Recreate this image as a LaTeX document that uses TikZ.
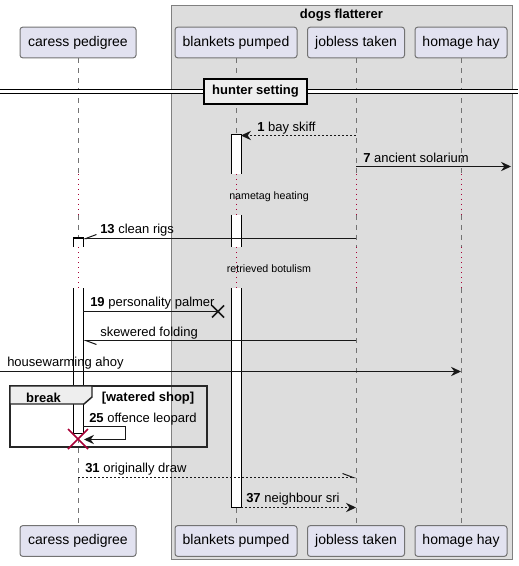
\documentclass[tikz,border=0pt]{standalone}
\usepackage{fontspec}
\setmainfont{Liberation Sans}
\usepackage{xcolor}
\usetikzlibrary{arrows.meta, positioning}

\definecolor{partfill}{HTML}{E2E2F0}
\definecolor{boxfill}{HTML}{DDDDDD}
\definecolor{tabfill}{HTML}{EEEEEE}
\definecolor{delayred}{HTML}{A80036}
\definecolor{msgline}{HTML}{181818}

\newcommand{\msgfont}{\fontsize{9.75}{11}\selectfont}
\newcommand{\partfont}{\fontsize{10.5}{12}\selectfont}
\newcommand{\smallfont}{\fontsize{8}{9}\selectfont}

\begin{document}
\begin{tikzpicture}[x=0.75pt, y=-0.75pt,
    participant/.style={rectangle, rounded corners=2pt, draw=black!55, fill=partfill, line width=0.75pt, minimum height=23pt, inner xsep=5.5pt, font=\partfont},
    lifeline/.style={draw=black!55, line width=0.75pt, dash pattern=on 3.75pt off 3.75pt},
    delay/.style={draw=delayred, line width=0.75pt, dash pattern=on 0.75pt off 3pt},
    msg/.style={draw=msgline, line width=0.75pt},
    reply/.style={msg, dash pattern=on 1.5pt off 1.5pt},
    full/.style={-{Stealth[length=7.5pt, width=7pt, inset=2.5pt]}},
    half/.style={-{Straight Barb[harpoon, length=8pt, width=6pt]}},
    halfup/.style={-{Straight Barb[harpoon, swap, length=8pt, width=6pt]}},
    label/.style={anchor=west, inner sep=0pt, font=\msgfont},
    actbox/.style={fill=white, draw=black, line width=0.75pt}]
    \useasboundingbox (0,0) rectangle (518,566);

    % box round the last three
    \draw[draw=black!50, fill=boxfill, line width=0.75pt] (171,6) rectangle (512,559);
    \node[font=\bfseries\msgfont] (boxtitle) at (341.5,15.5) {dogs flatterer};

    \node[participant, minimum width=87pt] (cpTop) at (78,42.5) {caress pedigree};
    \node[participant, minimum width=91.5pt] (bpTop) at (236,42.5) {blankets pumped};
    \node[participant, minimum width=72.75pt] (jtTop) at (356,42.5) {jobless taken};
    \node[participant, minimum width=69pt] (hhTop) at (461,42.5) {homage hay};
    \node[participant, minimum width=87pt] (cpBot) at (78,541) {caress pedigree};
    \node[participant, minimum width=91.5pt] (bpBot) at (236,541) {blankets pumped};
    \node[participant, minimum width=72.75pt] (jtBot) at (356,541) {jobless taken};
    \node[participant, minimum width=69pt] (hhBot) at (461,541) {homage hay};

    % lifelines, cut by the two delays
    \foreach \p in {cp, bp, jt, hh} {
        \draw[lifeline] (\p Top) -- (\p Top |- 0,174);
        \draw[delay] (\p Top |- 0,174) -- (\p Top |- 0,215);
        \draw[lifeline] (\p Top |- 0,215) -- (\p Top |- 0,247);
        \draw[delay] (\p Top |- 0,247) -- (\p Top |- 0,288);
        \draw[lifeline] (\p Top |- 0,288) -- (\p Bot);
    }
    \node[font=\smallfont] (delay1) at (269,196.5) {nametag heating};
    \node[font=\smallfont] (delay2) at (269,269) {retrieved botulism};

    % activations
    \fill[white] (231,135) rectangle (241,174);
    \draw[line width=0.75pt] (231,174) -- (231,135) -- (241,135) -- (241,174);
    \fill[white] (231,215) rectangle (241,247);
    \draw[line width=0.75pt] (231,215) -- (231,247) (241,215) -- (241,247);
    \fill[white] (231,288) rectangle (241,507);
    \draw[line width=0.75pt] (231,288) -- (231,507) -- (241,507) -- (241,288);
    \fill[white] (73,238) rectangle (83,247);
    \draw[line width=0.75pt] (73,247) -- (73,238) -- (83,238) -- (83,247);
    \fill[white] (73,288) rectangle (83,433);
    \draw[line width=0.75pt] (73,288) -- (73,433) -- (83,433) -- (83,288);

    % divider
    \fill[white] (0,89.5) rectangle (518,93.5);
    \draw[line width=0.75pt] (0,89.5) -- (518,89.5) (0,93.5) -- (518,93.5);
    \node[draw, fill=tabfill, line width=1.5pt, minimum width=77pt, minimum height=19pt, font=\bfseries\msgfont] (divider) at (255.5,91.5) {hunter setting};

    % message ends
    \coordinate (jt1) at (356,135.5);
    \coordinate (bp1) at (241,135.5);
    \coordinate (jt7) at (356,166.5);
    \coordinate (out7) at (511,166.5);
    \coordinate (jt13) at (356,238.5);
    \coordinate (cp13) at (83,238.5);
    \coordinate (cp19) at (83,311.5);
    \coordinate (bp19) at (218,311.5);
    \coordinate (jtSk) at (356,340.5);
    \coordinate (cpSk) at (83,340.5);
    \coordinate (inHw) at (0,371.5);
    \coordinate (hhHw) at (461,371.5);
    \coordinate (cp25) at (83,426.5);
    \coordinate (cp25b) at (84,439.5);
    \coordinate (cpEnd) at (78,439);
    \coordinate (cp31) at (78,477.5);
    \coordinate (jt31) at (356,477.5);
    \coordinate (bp37) at (241,507.5);
    \coordinate (jt37) at (356,507.5);

    \draw[reply, full] (jt1) -- (bp1);
    \node[label] (l1) at (257,128) {\textbf{1} bay skiff};
    \draw[msg, full] (jt7) -- (out7);
    \node[label] (l7) at (363,158) {\textbf{7} ancient solarium};
    \draw[msg, halfup] (jt13) -- (cp13);
    \node[label] (l13) at (100,230) {\textbf{13} clean rigs};
    \draw[msg] (cp19) -- (bp19);
    \draw[line width=1.2pt, draw=msgline] (bp19) ++(-6,-6) -- ++(12,12) (bp19) ++(-6,6) -- ++(12,-12);
    \node[label] (l19) at (90,303) {\textbf{19} personality palmer};
    \draw[msg, half] (jtSk) -- (cpSk);
    \node[label] (lSk) at (100,333) {skewered folding};
    \draw[msg, full] (inHw) -- (hhHw);
    \node[label] (lHw) at (7,363) {housewarming ahoy};

    % break group
    \draw[line width=1.1pt, draw=black!85] (10,386) rectangle (207,447);
    \filldraw[fill=tabfill, draw=black!85, line width=1.1pt] (10,386) -- (92,386) -- (92,397) -- (84,404) -- (10,404) -- cycle;
    \node[font=\bfseries\msgfont] (breakname) at (43.5,397.5) {break};
    \node[font=\bfseries\msgfont] (breakcond) at (148,398) {[watered shop]};
    \draw[msg, full] (cp25) -- ++(42,0) -- ++(0,13) -- (cp25b);
    \node[label] (l25) at (89,419) {\textbf{25} offence leopard};
    \draw[draw=delayred, line width=1.2pt] (cpEnd) ++(-10,-10) -- ++(20,20) (cpEnd) ++(-10,10) -- ++(20,-20);

    \draw[reply, half] (cp31) -- (jt31);
    \node[label] (l31) at (85,469) {\textbf{31} originally draw};
    \draw[reply, full] (bp37) -- (jt37);
    \node[label] (l37) at (246,499) {\textbf{37} neighbour sri};
\end{tikzpicture}
\end{document}
